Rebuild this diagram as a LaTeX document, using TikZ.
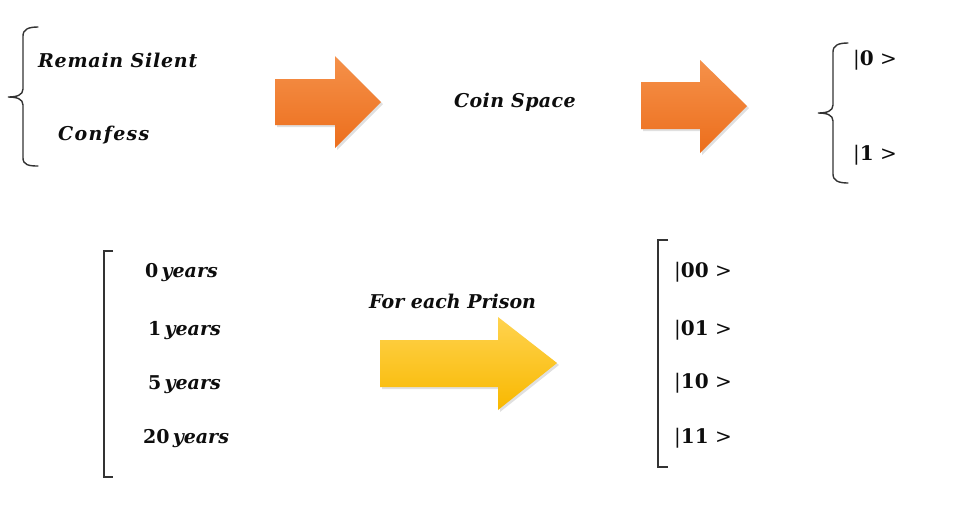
\documentclass[tikz,border=0pt]{standalone}
\usepackage{fontspec}
\setmainfont{DejaVu Serif}
\usetikzlibrary{shadings}
\definecolor{ink}{HTML}{0D0D0D}
\definecolor{brk}{HTML}{333333}
\definecolor{orT}{HTML}{F5914A}
\definecolor{orB}{HTML}{EC6E1C}
\definecolor{yeT}{HTML}{FFD34F}
\definecolor{yeB}{HTML}{F8B800}
\tikzset{
  lbl/.style={anchor=west, inner sep=0pt, text=ink, font=\fontsize{19}{22}\selectfont\bfseries\itshape},
  num/.style={anchor=west, inner sep=0pt, text=ink, font=\fontsize{19}{22}\selectfont},
  ket/.style={anchor=west, inner sep=0pt, text=ink, font=\fontsize{20}{24}\selectfont},
  brace/.style={draw=brk, line width=1.4pt, line cap=round},
  orarrow/.style={top color=orT, bottom color=orB, draw=none},
  yearrow/.style={top color=yeT, bottom color=yeB, draw=none},
  shadowed/.style={fill=black, opacity=0.12, draw=none}
}
\newcommand{\yrs}[1]{\textbf{#1}\,\textbf{\textit{years}}}
\newcommand{\kt}[1]{{\fontseries{m}\selectfont|}\textbf{#1}\ {\fontseries{m}\selectfont>}}
\begin{document}
\begin{tikzpicture}[x=1pt,y=-1pt]
\useasboundingbox (0,0) rectangle (956,507);
\fill[white] (0,0) rectangle (956,507);

% top-left brace
\draw[brace] (38,27) .. controls (29,27) and (23,29) .. (23,36) -- (23,89)
  .. controls (23,95) and (17,97) .. (8,97)
  .. controls (17,97) and (23,99) .. (23,105) -- (23,158)
  .. controls (23,165) and (29,166) .. (38,166);
\node[lbl] (silent) at (38,60) {\addfontfeature{LetterSpace=4}Remain Silent};
\node[lbl] (confess) at (58,135) {\addfontfeature{LetterSpace=7}Confess};

% arrow 1
\fill[shadowed] (277,81) -- (337,81) -- (337,58) -- (383,104) -- (337,150) -- (337,127) -- (277,127) -- cycle;
\path[orarrow] (275,79) -- (335,79) -- (335,56) -- (381,102) -- (335,148) -- (335,125) -- (275,125) -- cycle;

\node[lbl] (coin) at (454,102) {\addfontfeature{LetterSpace=2}Coin Space};

% arrow 2
\fill[shadowed] (643,84) -- (702,84) -- (702,62) -- (749,108) -- (702,155) -- (702,131) -- (643,131) -- cycle;
\path[orarrow] (641,82) -- (700,82) -- (700,60) -- (747,106) -- (700,153) -- (700,129) -- (641,129) -- cycle;

% right brace
\draw[brace] (848,43) .. controls (839,43) and (833,45) .. (833,52) -- (833,105)
  .. controls (833,111) and (827,113) .. (818,113)
  .. controls (827,113) and (833,115) .. (833,121) -- (833,174)
  .. controls (833,181) and (839,183) .. (848,183);
\node[ket] (k0) at (853,60) {\kt{0}};
\node[ket] (k1) at (853,155) {\kt{1}};

% left square bracket
\draw[brace, line cap=butt] (113,251) -- (104,251) -- (104,477) -- (113,477);
\node[num] (y0) at (145,273) {\yrs{0}};
\node[num] (y1) at (148,331) {\yrs{1}};
\node[num] (y5) at (148,385) {\yrs{5}};
\node[num] (y20) at (143,439) {\yrs{20}};

\node[lbl] (each) at (369,301) {For each Prison};

% yellow arrow
\fill[shadowed] (382,342) -- (500,342) -- (500,319) -- (559,365) -- (500,412) -- (500,389) -- (382,389) -- cycle;
\path[yearrow] (380,340) -- (498,340) -- (498,317) -- (557,363) -- (498,410) -- (498,387) -- (380,387) -- cycle;

% right square bracket
\draw[brace, line cap=butt] (668,240) -- (658,240) -- (658,467) -- (668,467);
\node[ket] (k00) at (674,272) {\kt{00}};
\node[ket] (k01) at (674,330) {\kt{01}};
\node[ket] (k10) at (674,383) {\kt{10}};
\node[ket] (k11) at (674,438) {\kt{11}};
\end{tikzpicture}
\end{document}
